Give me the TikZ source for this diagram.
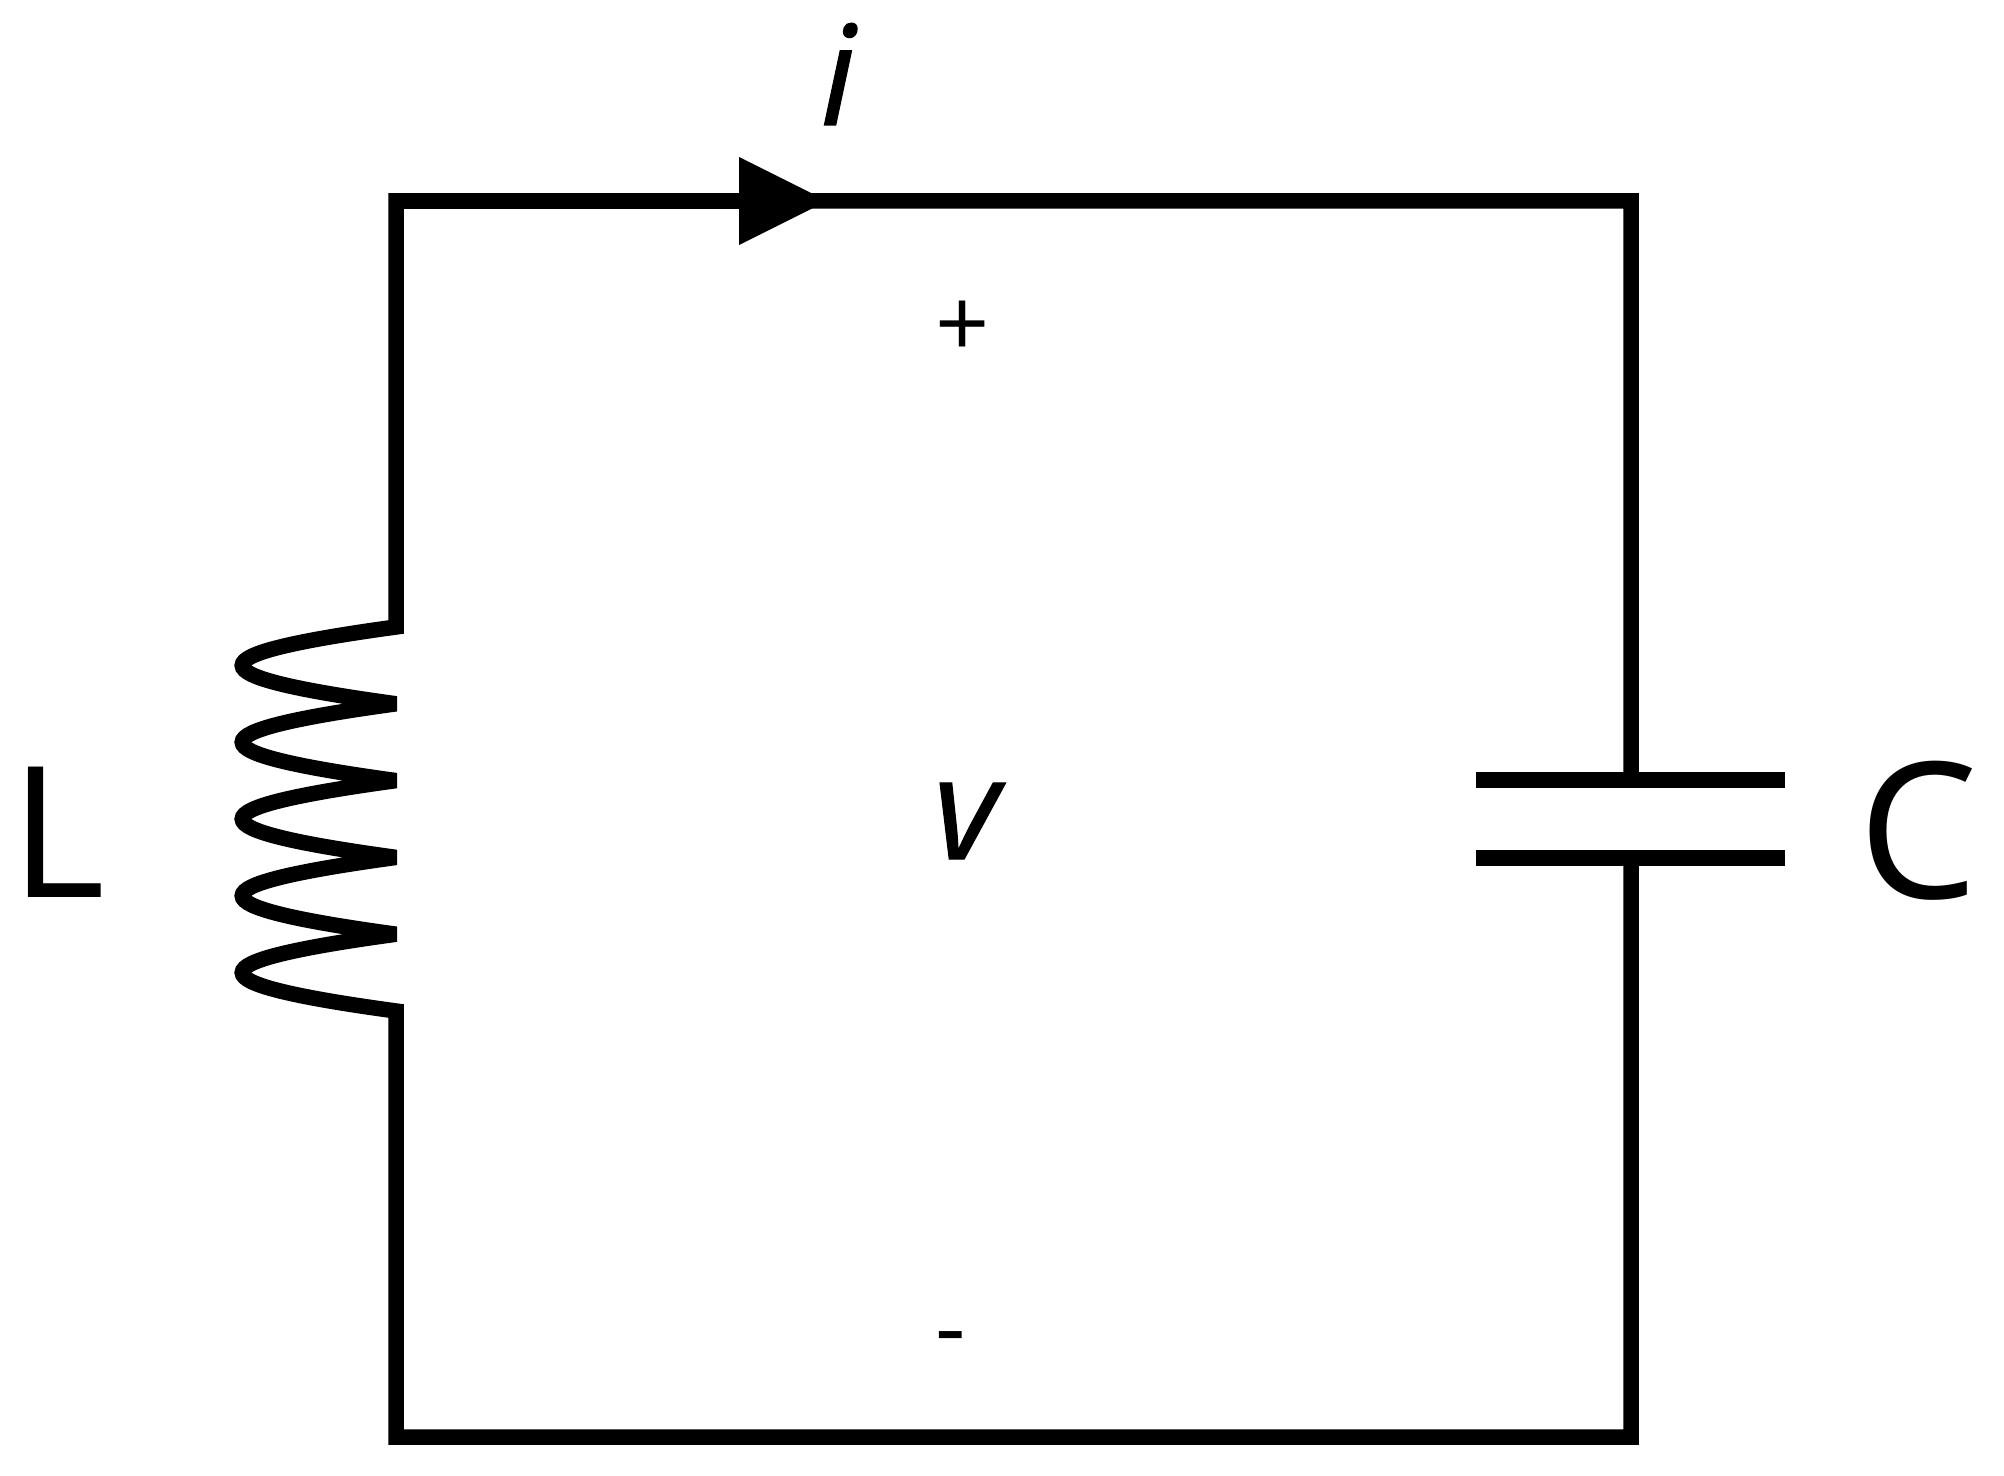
\documentclass[tikz,border=0pt]{standalone}
\usepackage{fontspec}
\setmainfont{Open Sans}
\usetikzlibrary{arrows.meta}

\begin{document}
\begin{tikzpicture}[
  x=0.02cm, y=-0.02cm,
  wire/.style={line width=0.31cm,line join=miter,miter limit=2},
  plate/.style={line width=0.32cm},
  every node/.style={inner sep=0pt,anchor=base}
]
\useasboundingbox (0,0) rectangle (2004,1476);

\coordinate (tl) at (396,201);       % top left corner
\coordinate (tr) at (1631,201);      % top right corner
\coordinate (bl) at (396,1437);      % bottom left corner
\coordinate (br) at (1631,1437);     % bottom right corner
\coordinate (coilin) at (396,627);   % top of the coil
\coordinate (coilout) at (396,1011); % bottom of the coil
\coordinate (captop) at (1631,780);
\coordinate (capbot) at (1631,858);
\coordinate (tip) at (827,201);      % head of the current arrow

\node (i) at (838,125) {\fontsize{79pt}{79pt}\selectfont\itshape\addfontfeature{FakeBold=0.8} i};
\node (plus) at (963,358) {\fontsize{54pt}{54pt}\selectfont +};
\node (v) at (966,859) {\fontsize{81pt}{81pt}\selectfont\itshape\addfontfeature{FakeBold=0.8} v};
\node (minus) at (951,1360) {\fontsize{54pt}{54pt}\selectfont -};
\node (L) at (58,897) {\fontsize{104pt}{104pt}\selectfont L};
\node (C) at (1918,898) {\fontsize{108pt}{108pt}\selectfont C};

% loop, coil included
\draw[wire] (captop) -- (tr) -- (tl) -- (coilin)
  \foreach \k in {1,...,5} { .. controls +(-205,28) and +(-205,-28) .. ++(0,76.8) }
  -- (bl) -- (br) -- (capbot);

\draw[wire,-{Triangle[length=1.76cm,width=1.76cm,line width=0pt]}] (tl) -- (tip);

\draw[plate] (1476,780) -- (captop) -- (1785,780);
\draw[plate] (1476,858) -- (capbot) -- (1785,858);
\end{tikzpicture}
\end{document}
